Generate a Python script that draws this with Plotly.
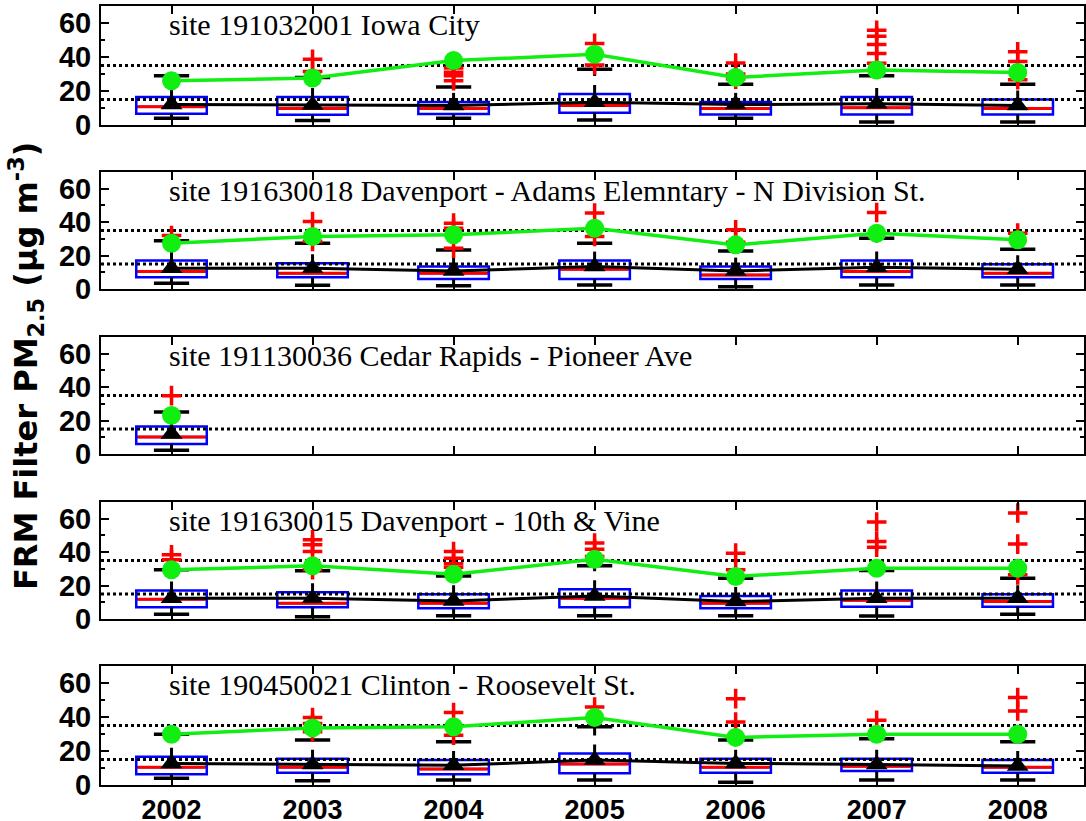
import plotly.graph_objects as go
from plotly.subplots import make_subplots

years = [2002, 2003, 2004, 2005, 2006, 2007, 2008]
year_labels = ["2002", "2003", "2004", "2005", "2006", "2007", "2008"]
standards = [15, 35]

site_names = [
    "site 191032001 Iowa City",
    "site 191630018 Davenport - Adams Elemntary - N Division St.",
    "site 191130036 Cedar Rapids - Pioneer Ave",
    "site 191630015 Davenport - 10th & Vine",
    "site 190450021 Clinton - Roosevelt St.",
]

# Site 1: Iowa City
s1_q1 = [6.6, 6.0, 6.4, 7.2, 6.2, 6.2, 6.2]
s1_med = [10.7, 9.7, 9.7, 11.5, 9.7, 10.1, 9.7]
s1_q3 = [16.5, 16.4, 13.6, 18.3, 13.6, 16.5, 15.0]
s1_lo = [3.9, 2.7, 3.9, 2.9, 3.9, 1.8, 1.8]
s1_hi = [29.0, 28.0, 22.4, 32.8, 24.0, 29.0, 24.0]
s1_p98 = [26.0, 27.6, 37.9, 41.6, 28.0, 32.4, 30.9]
s1_mean = [12.0, 11.8, 11.5, 13.4, 12.0, 12.5, 11.5]
s1_out = [[], [31.5, 38.7], [26.0, 29.0, 31.0, 33.5], [35.3, 48.0],
          [27.0, 30.0, 36.5], [36.3, 42.1, 47.4, 52.2, 55.7], [26.6, 37.3, 43.1]]

# Site 2: Davenport - Adams
s2_q1 = [7.0, 7.0, 6.0, 6.0, 6.0, 7.0, 7.0]
s2_med = [10.4, 9.4, 9.4, 11.8, 8.4, 10.4, 9.4]
s2_q3 = [17.0, 15.4, 13.4, 17.0, 13.4, 17.0, 14.8]
s2_lo = [3.4, 2.2, 2.0, 2.4, 1.4, 2.4, 2.4]
s2_hi = [28.8, 27.4, 23.4, 27.4, 22.8, 30.4, 23.8]
s2_p98 = [27.4, 31.4, 32.4, 36.4, 26.4, 33.4, 29.4]
s2_mean = [12.4, 12.4, 10.8, 13.4, 10.8, 13.0, 11.8]
s2_out = [[32.0], [28.5, 40.4], [24.4, 36.4, 39.4], [31.4, 45.4],
          [28.0, 35.4], [45.8], [33.4]]

# Site 3: Cedar Rapids (2002 only)
s3_q1 = [6.0, None, None, None, None, None, None]
s3_med = [10.2, None, None, None, None, None, None]
s3_q3 = [16.5, None, None, None, None, None, None]
s3_lo = [2.2, None, None, None, None, None, None]
s3_hi = [25.1, None, None, None, None, None, None]
s3_p98 = [23.1, None, None, None, None, None, None]
s3_mean = [12.0, None, None, None, None, None, None]
s3_out = [[34.9], [], [], [], [], [], []]

# Site 4: Davenport - 10th & Vine
s4_q1 = [7.0, 7.0, 6.4, 7.0, 6.4, 7.4, 7.4]
s4_med = [11.8, 9.4, 9.4, 12.4, 9.4, 11.2, 10.4]
s4_q3 = [17.0, 16.0, 14.8, 17.8, 13.8, 17.0, 14.8]
s4_lo = [2.8, 1.4, 2.0, 2.0, 2.0, 1.8, 2.8]
s4_hi = [29.4, 28.8, 25.8, 31.8, 24.4, 29.0, 24.4]
s4_p98 = [29.4, 31.8, 26.8, 35.8, 25.4, 30.4, 30.4]
s4_mean = [12.4, 12.4, 10.8, 13.8, 10.4, 12.4, 12.4]
s4_out = [[35.4, 38.4], [29.5, 40.4, 44.4, 47.4], [31.0, 33.0, 36.4, 40.4],
          [37.4, 41.8, 45.4], [29.4, 39.4], [43.0, 46.4, 58.0], [26.4, 44.8, 63.4]]

# Site 5: Clinton
s5_q1 = [6.3, 7.2, 6.3, 6.9, 7.2, 8.2, 7.2]
s5_med = [10.4, 10.4, 9.4, 12.3, 10.4, 11.1, 10.4]
s5_q3 = [16.6, 15.4, 14.7, 18.6, 15.4, 15.4, 14.7]
s5_lo = [3.9, 2.5, 2.9, 2.9, 1.6, 2.9, 2.9]
s5_hi = [29.9, 26.4, 25.4, 34.2, 26.4, 27.2, 25.4]
s5_p98 = [29.9, 33.6, 34.2, 39.7, 28.0, 29.9, 29.9]
s5_mean = [12.7, 12.1, 11.6, 14.7, 12.7, 12.1, 11.2]
s5_out = [[], [31.3, 36.2, 39.7], [29.3, 42.6], [45.9], [37.1, 50.8], [38.1], [43.6, 51.4]]

sites = [
    (s1_q1, s1_med, s1_q3, s1_lo, s1_hi, s1_p98, s1_mean, s1_out),
    (s2_q1, s2_med, s2_q3, s2_lo, s2_hi, s2_p98, s2_mean, s2_out),
    (s3_q1, s3_med, s3_q3, s3_lo, s3_hi, s3_p98, s3_mean, s3_out),
    (s4_q1, s4_med, s4_q3, s4_lo, s4_hi, s4_p98, s4_mean, s4_out),
    (s5_q1, s5_med, s5_q3, s5_lo, s5_hi, s5_p98, s5_mean, s5_out),
]

# ---- layout geometry (pixels) ----
W, H = 1086, 821
M_L, M_R, M_T, M_B = 101, 2, 6, 36
panel_tops = [6, 172, 337, 502, 666]
panel_bots = [125, 289, 454, 619, 785]
plot_h = H - M_T - M_B
XR = [2001.5, 2008.47]
BOX_HALF = 0.25
CAP_HALF = 0.125

GREEN = "#11ee11"
BLUE = "#0000ff"
RED = "#ff0000"
TICKFONT = dict(family="Liberation Sans, Arial, sans-serif", size=29, color="black",
                weight="bold")

fig = make_subplots(rows=5, cols=1)

for i, (q1, med, q3, lo, hi, p98, mean, outl) in enumerate(sites):
    r = i + 1
    idx = [k for k in range(len(years)) if q1[k] is not None]
    xs = [years[k] for k in idx]

    # box bodies
    fig.add_trace(go.Box(
        x=xs, q1=[q1[k] for k in idx], median=[med[k] for k in idx],
        q3=[q3[k] for k in idx], lowerfence=[q1[k] for k in idx],
        upperfence=[q3[k] for k in idx], width=2 * BOX_HALF,
        fillcolor="white", line=dict(color=BLUE, width=2.5),
        whiskerwidth=0, boxpoints=False, showlegend=False, hoverinfo="skip",
    ), row=r, col=1)

    # standard dotted lines
    for s in standards:
        fig.add_trace(go.Scatter(
            x=XR, y=[s, s], mode="lines",
            line=dict(color="black", width=3, dash="dot"),
            showlegend=False, hoverinfo="skip"), row=r, col=1)

    wx, wy = [], []
    cx, cy = [], []
    mx, my = [], []
    for k in idx:
        yr = years[k]
        wx += [yr, yr, None, yr, yr, None]
        wy += [q3[k], hi[k], None, q1[k], lo[k], None]
        cx += [yr - CAP_HALF, yr + CAP_HALF, None, yr - CAP_HALF, yr + CAP_HALF, None]
        cy += [hi[k], hi[k], None, lo[k], lo[k], None]
        mx += [yr - BOX_HALF + 0.01, yr + BOX_HALF - 0.01, None]
        my += [med[k], med[k], None]
    fig.add_trace(go.Scatter(x=wx, y=wy, mode="lines",
                             line=dict(color="black", width=3, dash="dash"),
                             showlegend=False, hoverinfo="skip"), row=r, col=1)
    fig.add_trace(go.Scatter(x=cx, y=cy, mode="lines",
                             line=dict(color="black", width=3.5),
                             showlegend=False, hoverinfo="skip"), row=r, col=1)
    fig.add_trace(go.Scatter(x=mx, y=my, mode="lines",
                             line=dict(color=RED, width=3),
                             showlegend=False, hoverinfo="skip"), row=r, col=1)

    # outliers
    ox, oy = [], []
    for k in range(len(years)):
        for v in outl[k]:
            ox.append(years[k])
            oy.append(v)
    fig.add_trace(go.Scatter(x=ox, y=oy, mode="markers",
                             marker=dict(symbol="cross-thin", size=14,
                                         line=dict(color=RED, width=3.5)),
                             showlegend=False, hoverinfo="skip"), row=r, col=1)

    # 98th percentile (green) and mean (black)
    fig.add_trace(go.Scatter(x=xs, y=[p98[k] for k in idx], mode="lines+markers",
                             line=dict(color=GREEN, width=3.5),
                             marker=dict(symbol="circle", size=19, color=GREEN),
                             showlegend=False, hoverinfo="skip"), row=r, col=1)
    fig.add_trace(go.Scatter(x=xs, y=[mean[k] for k in idx], mode="lines+markers",
                             line=dict(color="black", width=3),
                             marker=dict(symbol="triangle-up", size=19, color="black"),
                             showlegend=False, hoverinfo="skip"), row=r, col=1)

    # site label
    fig.add_annotation(
        text=site_names[i], x=years[0] - 0.03, y=59,
        xref="x" if r == 1 else f"x{r}", yref="y" if r == 1 else f"y{r}",
        xanchor="left", yanchor="middle", showarrow=False,
        font=dict(family="Liberation Serif, Times New Roman, serif", size=30, color="black"))

    dom = [(H - M_B - panel_bots[i]) / plot_h, (H - M_B - panel_tops[i]) / plot_h]
    fig.update_yaxes(
        row=r, col=1, domain=dom, range=[0, 70], automargin=False,
        tickvals=[0, 20, 40, 60], ticks="inside", ticklen=8, tickwidth=1.5,
        tickcolor="black", showline=True, linecolor="black", linewidth=2,
        mirror="ticks", showgrid=False, zeroline=False,
        minor=dict(dtick=10, ticks="inside", ticklen=4, tickcolor="black", showgrid=False),
        tickfont=TICKFONT, ticklabelstandoff=2,
    )
    fig.update_xaxes(
        row=r, col=1, range=XR, tickvals=years, ticktext=year_labels, automargin=False,
        showticklabels=(r == 5), ticks="inside", ticklen=8, tickwidth=1.5,
        tickcolor="black", showline=True, linecolor="black", linewidth=2,
        mirror="ticks", showgrid=False, zeroline=False,
        tickfont=dict(TICKFONT, size=27), ticklabelstandoff=0,
    )

fig.add_annotation(
    text="FRM Filter PM<sub>2.5</sub> (µg m<sup>-3</sup>)",
    xref="paper", yref="paper",
    x=(26 - M_L) / (W - M_L - M_R), y=(H - M_B - 366) / plot_h,
    xanchor="center", yanchor="middle", textangle=-90, showarrow=False,
    font=dict(family="DejaVu Sans, sans-serif", size=32, color="black", weight="bold"))

fig.update_layout(
    width=W, height=H, margin=dict(l=M_L, r=M_R, t=M_T, b=M_B, autoexpand=False),
    paper_bgcolor="white", plot_bgcolor="white", showlegend=False,
)

fig.write_html(
    "out.html",
    config={"displayModeBar": False},
    post_script="document.body.style.margin='0px';document.body.style.overflow='hidden';",
)
